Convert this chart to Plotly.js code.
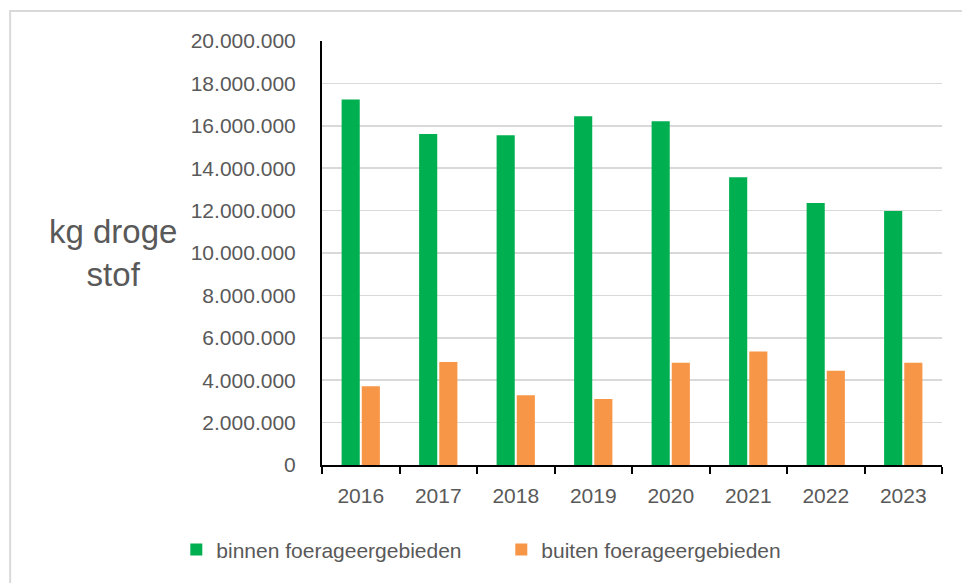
<!DOCTYPE html>
<html>
<head>
<meta charset="utf-8">
<script src="https://cdn.plot.ly/plotly-3.0.1.min.js"></script>
<style>html,body{margin:0;padding:0;background:#fff;}#chart{width:962px;height:583px;}</style>
</head>
<body>
<div id="chart"></div>
<script>
var years = ['2016','2017','2018','2019','2020','2021','2022','2023'];
var binnen = [17240000, 15610000, 15560000, 16450000, 16220000, 13570000, 12360000, 11980000];
var buiten = [3720000, 4860000, 3290000, 3110000, 4820000, 5350000, 4440000, 4820000];
var seriesNames = ['binnen foerageergebieden', 'buiten foerageergebieden'];
var yTitle = 'kg droge<br>stof';

var font = 'Liberation Sans, Arial, sans-serif';
var grey = '#595959';

var traces = [
  {type:'bar', name: seriesNames[0], x: years, y: binnen, marker:{color:'#00B050'}, hoverinfo:'y'},
  {type:'bar', name: seriesNames[1], x: years, y: buiten, marker:{color:'#F79646'}, hoverinfo:'y'}
];

var layout = {
  width: 962, height: 583,
  margin: {l: 322, r: 20, t: 41, b: 118},
  paper_bgcolor: '#fff', plot_bgcolor: '#fff',
  separators: ',.',
  barmode: 'group',
  bargap: 0.48,
  bargroupgap: 0.1,
  font: {family: font, color: grey, size: 21},
  xaxis: {
    type: 'category',
    showline: true, linecolor: '#000', linewidth: 2,
    ticks: 'outside', tickson: 'boundaries', ticklen: 7, tickwidth: 2, tickcolor: '#000',
    ticklabelstandoff: 11,
    showgrid: false,
    tickfont: {family: font, size: 21, color: grey}
  },
  yaxis: {
    range: [0, 20000000], dtick: 2000000, tick0: 0,
    tickformat: ',d',
    showline: true, linecolor: '#000', linewidth: 2,
    ticks: '', ticklabelstandoff: 20,
    gridcolor: '#D9D9D9', gridwidth: 1.5,
    zeroline: false,
    tickfont: {family: font, size: 21, color: grey}
  },
  legend: {
    orientation: 'h', x: -0.235, xanchor: 'left', y: -0.2, yanchor: 'middle',
    font: {family: font, size: 21, color: grey},
    entrywidth: 280, traceorder: 'normal'
  },
  annotations: [{
    xref: 'paper', yref: 'paper', x: -0.337, y: 0.5, xanchor: 'center', yanchor: 'middle',
    text: yTitle, showarrow: false, align: 'center',
    font: {family: font, size: 33, color: grey}
  }],
  shapes: [{
    type: 'rect', xref: 'paper', yref: 'paper',
    x0: -0.503, x1: 1.2, y0: -0.4, y1: 1.0708,
    line: {color: '#D9D9D9', width: 2}, fillcolor: 'rgba(0,0,0,0)', layer: 'below'
  }],
  showlegend: true
};

Plotly.newPlot('chart', traces, layout, {displayModeBar: false, staticPlot: true});
</script>
</body>
</html>
